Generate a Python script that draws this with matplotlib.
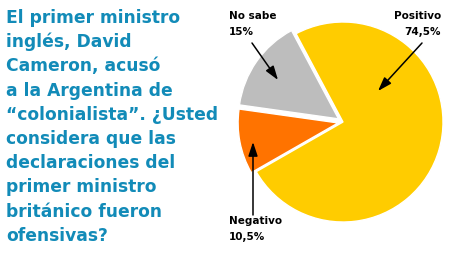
import matplotlib
matplotlib.use("Agg")
import matplotlib.pyplot as plt

# ---- data ----
categories = ["No sabe", "Negativo", "Positivo"]
values = [15, 10.5, 74.5]
slice_colors = ["#bdbdbd", "#ff7300", "#ffcc00"]
title_lines = [
    "El primer ministro",
    "inglés, David",
    "Cameron, acusó",
    "a la Argentina de",
    "“colonialista”. ¿Usted",
    "considera que las",
    "declaraciones del",
    "primer ministro",
    "británico fueron",
    "ofensivas?",
]

W, H = 450, 254
fig = plt.figure(figsize=(W / 100, H / 100), dpi=100)
fig.patch.set_facecolor("white")

def fx(x):
    return x / W

def fy(y):
    return 1 - y / H

# ---- title block ----
title_color = "#128bb8"
for i, line in enumerate(title_lines):
    fig.text(fx(6), fy(23 + i * 24.2), line, fontsize=12.3, fontweight="bold",
             family="DejaVu Sans", color=title_color, ha="left", va="baseline")

# ---- pie ----
cx, cy, r = 343, 122, 100
half = 115
ax = fig.add_axes([fx(cx - half), fy(cy + half), 2 * half / W, 2 * half / H])
ax.pie(values, colors=slice_colors, startangle=118, counterclock=True,
       explode=[0.055, 0.05, 0.0], radius=1.0,
       wedgeprops=dict(edgecolor="white", linewidth=1.0))
ax.set_xlim(-half / r, half / r)
ax.set_ylim(-half / r, half / r)
ax.set_aspect("equal")
ax.axis("off")

def pct(v):
    return f"{v:g}".replace(".", ",") + "%"

lab_kw = dict(fontsize=7.5, fontweight="bold", family="DejaVu Sans", color="black",
              va="baseline")
label_pos = {
    "No sabe": (229, 19, "left"),
    "Positivo": (441, 19, "right"),
    "Negativo": (229, 224, "left"),
}
for name, v in zip(categories, values):
    x, y, ha = label_pos[name]
    fig.text(fx(x), fy(y), name, ha=ha, **lab_kw)
    fig.text(fx(x), fy(y + 16), pct(v), ha=ha, **lab_kw)

arrows = {
    "No sabe": ((252, 43), (278, 80)),
    "Positivo": ((422, 43), (378, 91)),
    "Negativo": ((253, 215), (253, 142)),
}
for name in categories:
    (x0, y0), (x1, y1) = arrows[name]
    ax.annotate("", xy=(x1, H - y1), xycoords="figure pixels",
                xytext=(x0, H - y0), textcoords="figure pixels",
                arrowprops=dict(arrowstyle="-|>,head_length=0.6,head_width=0.2",
                                color="black", lw=1.1,
                                mutation_scale=14, shrinkA=0, shrinkB=0))

fig.savefig("out.png", dpi=100)
